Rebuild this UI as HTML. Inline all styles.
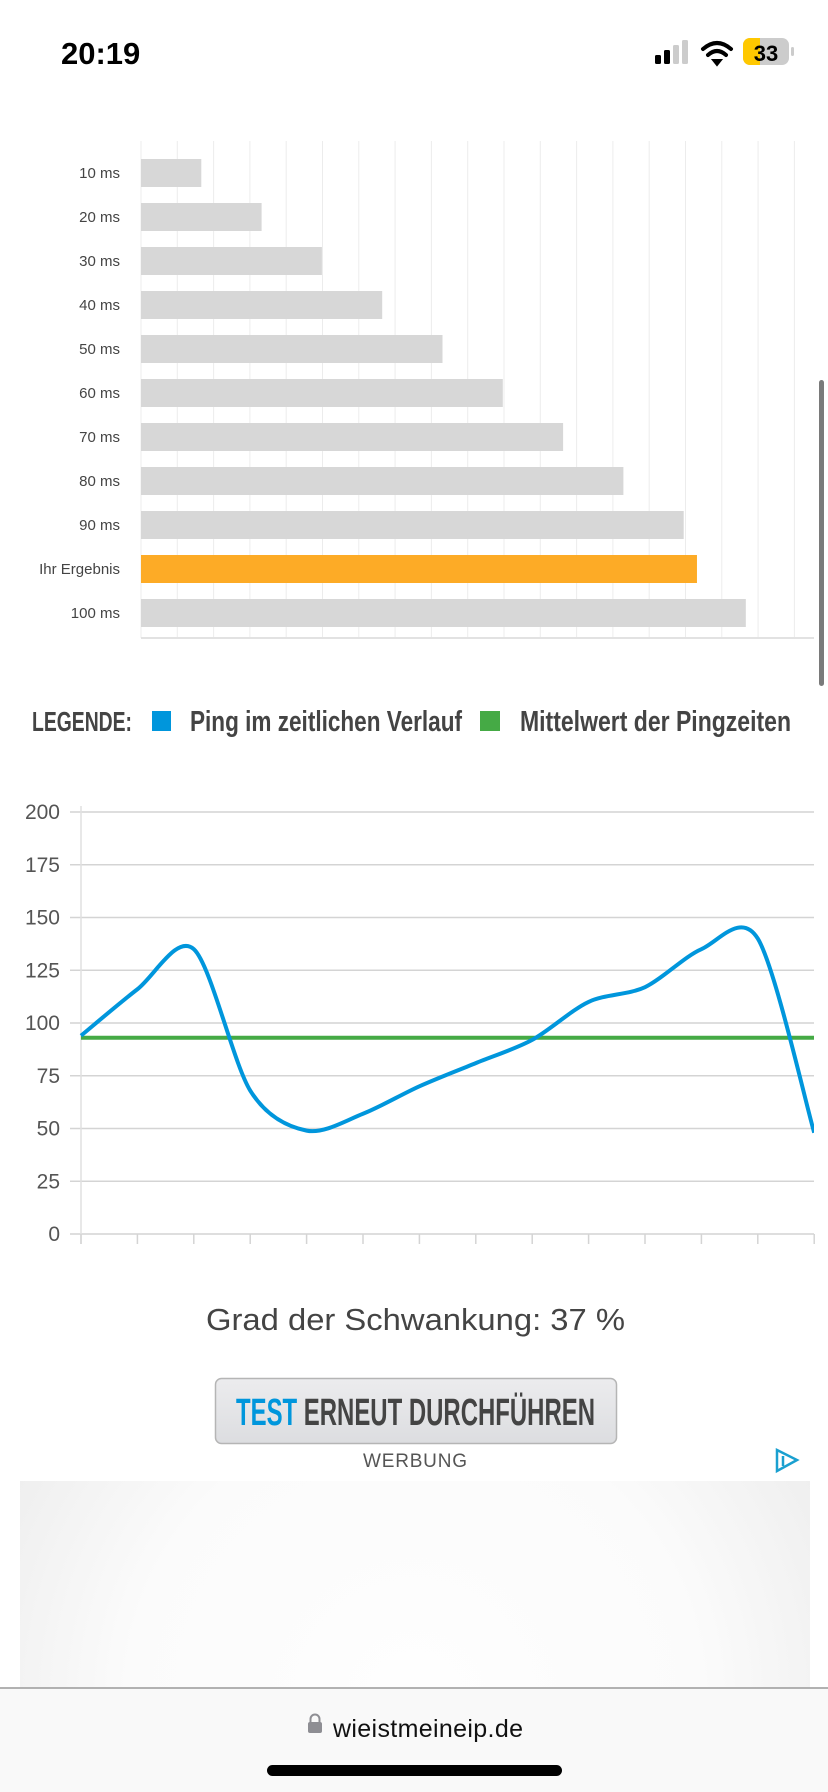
<!DOCTYPE html>
<html><head><meta charset="utf-8">
<style>
html,body{margin:0;padding:0;width:828px;height:1792px;overflow:hidden;background:#fff;font-family:"Liberation Sans",sans-serif}
svg{display:block}
</style></head>
<body>
<svg id="page" width="828" height="1792" viewBox="0 0 828 1792" xmlns="http://www.w3.org/2000/svg">
  <defs>
    <radialGradient id="adg" gradientUnits="userSpaceOnUse" cx="415" cy="1700" r="480">
      <stop offset="0" stop-color="#fefefe"/><stop offset="0.6" stop-color="#fbfbfb"/><stop offset="1" stop-color="#ededed"/>
    </radialGradient>
    <linearGradient id="btng" x1="0" y1="0" x2="0" y2="1">
      <stop offset="0" stop-color="#ececee"/><stop offset="1" stop-color="#dcdde0"/>
    </linearGradient>
  </defs>
  <g>
    <text x="61" y="64" font-size="31" font-weight="bold" fill="#000">20:19</text>
    <g>
      <rect x="655" y="55" width="6" height="9" rx="1.5" fill="#000"/>
      <rect x="664" y="50" width="6" height="14" rx="1.5" fill="#000"/>
      <rect x="673" y="45" width="6" height="19" rx="1.5" fill="#ccc"/>
      <rect x="682" y="40" width="6" height="24" rx="1.5" fill="#ccc"/>
    </g>
    <g fill="none" stroke="#000" stroke-width="4" stroke-linecap="round">
      <path d="M703 49 Q717 37 731 49"/><path d="M708 55 Q717 47 726 55"/>
      <path d="M713 60 L717 65 L721 60 Z" fill="#000" stroke-width="2"/>
    </g>
    <g>
      <rect x="743" y="38" width="46" height="27" rx="7" fill="#ccc"/>
      <path d="M750 38 H760 V65 H750 A7 7 0 0 1 743 58 V45 A7 7 0 0 1 750 38Z" fill="#ffc800"/>
      <rect x="791" y="47" width="3" height="9" rx="1.5" fill="#ccc"/>
      <text x="766" y="61" font-size="22" font-weight="bold" text-anchor="middle" fill="#000">33</text>
    </g>
  </g>

  <g id="barchart"></g>
  <rect x="819" y="380" width="5" height="306" rx="2.5" fill="#7a7a7a"/>

  <g font-family="'Liberation Sans Narrow','Liberation Sans',sans-serif" font-weight="bold" fill="#444">
    <text x="32" y="731" font-size="28" textLength="100" lengthAdjust="spacingAndGlyphs">LEGENDE:</text>
    <rect x="152" y="711" width="19" height="20" fill="#0096dc"/>
    <text x="190" y="731" font-size="29" textLength="272" lengthAdjust="spacingAndGlyphs">Ping im zeitlichen Verlauf</text>
    <rect x="480" y="711" width="20" height="20" fill="#45aa45"/>
    <text x="520" y="731" font-size="29" textLength="271" lengthAdjust="spacingAndGlyphs">Mittelwert der Pingzeiten</text>
  </g>

  <g id="linechart"></g>

  <text x="206" y="1330" font-size="31" fill="#444" textLength="419" lengthAdjust="spacingAndGlyphs">Grad der Schwankung: 37 %</text>

  <g>
    <rect x="215.5" y="1378.5" width="401" height="65" rx="6" fill="url(#btng)" stroke="#b5b5b5" stroke-width="1.5"/>
    <text x="236" y="1425" font-size="38" font-weight="bold" font-family="'Liberation Sans Narrow','Liberation Sans',sans-serif" textLength="359" lengthAdjust="spacingAndGlyphs" fill="#444"><tspan fill="#0096dc">TEST</tspan> ERNEUT DURCHFÜHREN</text>
  </g>

  <text x="415" y="1467" font-size="19" fill="#555" text-anchor="middle" textLength="104">WERBUNG</text>
  <g fill="none" stroke="#1aa0d0" stroke-width="2.5">
    <path d="M777 1450 L797 1460 L777 1471 Z"/><line x1="783" y1="1456" x2="783" y2="1466"/>
  </g>
  <rect x="20" y="1481" width="790" height="207" fill="url(#adg)"/>

  <g>
    <rect x="0" y="1688" width="828" height="104" fill="#f9f9f9"/>
    <line x1="0" y1="1688" x2="828" y2="1688" stroke="#999" stroke-width="1.5"/>
    <g>
      <path d="M310.5 1723 V1719 A4.5 4.5 0 0 1 319.5 1719 V1723" fill="none" stroke="#8e8e93" stroke-width="2"/>
      <rect x="308" y="1722" width="14" height="11" rx="2" fill="#8e8e93"/>
    </g>
    <text x="333" y="1737" font-size="25" fill="#111" textLength="190">wieistmeineip.de</text>
    <rect x="267" y="1765" width="295" height="11" rx="5.5" fill="#000"/>
  </g>
</svg>
<script>
const NS='http://www.w3.org/2000/svg';
const barCategories=['10 ms','20 ms','30 ms','40 ms','50 ms','60 ms','70 ms','80 ms','90 ms','Ihr Ergebnis','100 ms'];
const barValues=[10,20,30,40,50,60,70,80,90,92.2,100.3];
const barHighlight=[false,false,false,false,false,false,false,false,false,true,false];
const pingValues=[94,116,135,68,49,57,70,81,92,110,117,135,140,48];
const meanValue=93;
const yTicks=[0,25,50,75,100,125,150,175,200];

function mk(tag,attrs,parent){const e=document.createElementNS(NS,tag);for(const k in attrs)e.setAttribute(k,attrs[k]);parent.appendChild(e);return e;}

(function(){
  const g=document.getElementById('barchart');
  const x0=141, pxPerMs=6.03, top=141, bottom=638, rowTop=159, rowStep=44, barH=28;
  const bx=v=>x0+v*pxPerMs;
  for(let i=0;i<19;i++){
    const gx=x0+i*36.3;
    const l=mk('line',{x1:gx,y1:top,x2:gx,y2:bottom,stroke:'#ececec','stroke-width':1},g);
    
    
  }
  const ax=mk('line',{x1:x0,y1:bottom,x2:814,y2:bottom,stroke:'#e2e2e2','stroke-width':2},g);
  
  
  barCategories.forEach((c,i)=>{
    const y=rowTop+i*rowStep;
    const r=mk('rect',{x:x0,y:y,width:bx(barValues[i])-x0,height:barH,fill:barHighlight[i]?'#fdab26':'#d7d7d7'},g);
    
    
    const t=mk('text',{x:120,y:y+barH/2+5,'font-size':15,'text-anchor':'end',fill:'#444','font-family':"'Liberation Sans Narrow','Liberation Sans',sans-serif"},g);
    t.textContent=c;
    
    
  });
})();

(function(){
  const g=document.getElementById('linechart');
  const left=81,right=814,yTop=812,yBot=1234,maxV=200;
  const n=pingValues.length, step=56.4;
  const X=i=>left+i*step;
  const Y=v=>yBot-(v/maxV)*(yBot-yTop);
  yTicks.forEach(t=>{
    const l=mk('line',{x1:70,y1:Y(t),x2:right,y2:Y(t),stroke:'#d4d4d4','stroke-width':1.5},g);
    
    
    const tx=mk('text',{x:60,y:Y(t)+7,'font-size':21,'text-anchor':'end',fill:'#555'},g);
    tx.textContent=t;
    
    
  });
  const ya=mk('line',{x1:left,y1:yTop-6,x2:left,y2:yBot+10,stroke:'#e0e0e0','stroke-width':1.5},g);
  
  
  for(let i=0;i<n;i++){
    const l=mk('line',{x1:X(i),y1:yBot,x2:X(i),y2:yBot+10,stroke:'#d4d4d4','stroke-width':1.5},g);
    
    
  }
  const pts=pingValues.map((v,i)=>[X(i),Y(v)]);
  const tension=0.3;
  let d='M'+pts[0][0]+' '+pts[0][1];
  for(let i=0;i<pts.length-1;i++){
    const p0=pts[Math.max(0,i-1)],p1=pts[i],p2=pts[i+1],p3=pts[Math.min(pts.length-1,i+2)];
    const c1=[p1[0]+(p2[0]-p0[0])*tension/2,p1[1]+(p2[1]-p0[1])*tension/2];
    const c2=[p2[0]-(p3[0]-p1[0])*tension/2,p2[1]-(p3[1]-p1[1])*tension/2];
    d+=` C${c1[0]} ${c1[1]} ${c2[0]} ${c2[1]} ${p2[0]} ${p2[1]}`;
  }
  const clip=mk('clipPath',{id:'lc'},g);
  mk('rect',{x:left-3,y:yTop-20,width:right-left+3,height:yBot-yTop+40},clip);
  const mean=mk('line',{x1:left,y1:Y(meanValue),x2:right,y2:Y(meanValue),stroke:'#45aa45','stroke-width':4},g);
  
  
  const p=mk('path',{d:d,fill:'none',stroke:'#0096dc','stroke-width':4,'clip-path':'url(#lc)','stroke-linejoin':'round'},g);
  
  
})();
</script>
</body></html>
